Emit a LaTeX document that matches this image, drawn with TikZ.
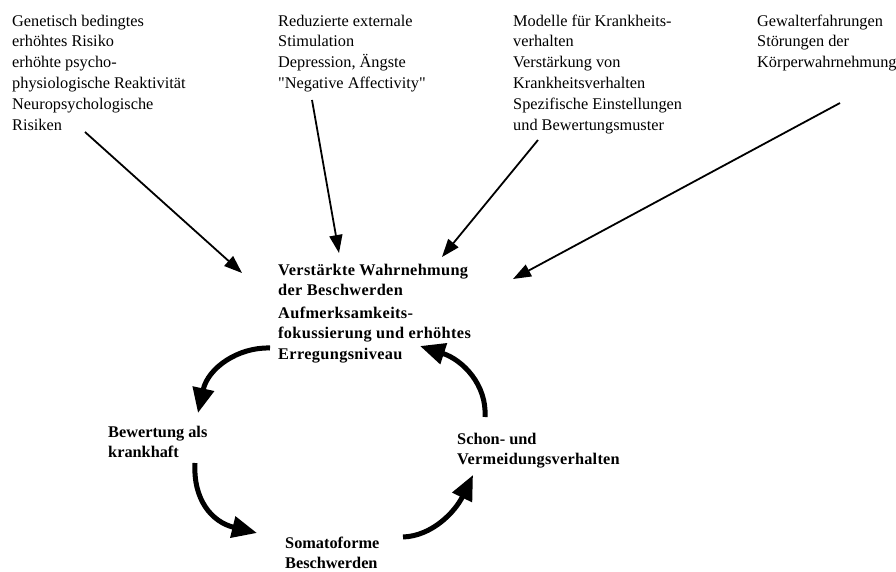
\documentclass[tikz,border=0pt]{standalone}
\usepackage{fontspec}
\setmainfont{Liberation Serif}[Ligatures=TeXOff]
\usetikzlibrary{arrows.meta}
\begin{document}
\begin{tikzpicture}[x=1pt,y=-1pt,
  toptext/.style={anchor=north west,inner sep=0pt,align=left,
    font=\fontsize{16.3}{20.8}\selectfont},
  boldtext/.style={anchor=north west,inner sep=0pt,align=left,
    font=\fontsize{16.3}{20.5}\selectfont\bfseries},
  thinarrow/.style={line width=1.8pt,-{Triangle[length=18pt,width=13pt]}},
  thickarrow/.style={line width=5pt,-{Triangle[length=25pt,width=21pt]}}]
\useasboundingbox (0,0) rectangle (896,572);

% source texts
\node[toptext] (gen) at (12,14.5) {Genetisch bedingtes\\erhöhtes Risiko\\erhöhte psycho-\\physiologische Reaktivität\\Neuropsychologische\\Risiken};
\node[toptext] (red) at (278,14.5) {Reduzierte externale\\Stimulation\\Depression, Ängste\\"Negative Affectivity"};
\node[toptext] (mod) at (513,14.5) {Modelle für Krankheits-\\verhalten\\Verstärkung von\\Krankheitsverhalten\\Spezifische Einstellungen\\und Bewertungsmuster};
\node[toptext] (gew) at (757,14.5) {Gewalterfahrungen\\Störungen der\\Körperwahrnehmung};

% cycle texts
\node[boldtext] (wahr) at (278,263.5) {\addfontfeature{LetterSpace=2.2}Verstärkte Wahrnehmung\\\addfontfeature{LetterSpace=2.2}der Beschwerden};
\node[boldtext] (auf) at (278,306.5) {\addfontfeature{LetterSpace=2.2}Aufmerksamkeits-\\\addfontfeature{LetterSpace=2.2}fokussierung und erhöhtes\\\addfontfeature{LetterSpace=2.2}Erregungsniveau};
\node[boldtext] (bew) at (108,425.5) {Bewertung als\\krankhaft};
\node[boldtext] (schon) at (457,432.5) {Schon- und\\\addfontfeature{LetterSpace=1.5}Vermeidungsverhalten};
\node[boldtext] (soma) at (285,536.5) {Somatoforme\\Beschwerden};

% connector end points
\coordinate (s1) at (85,132);   \coordinate (t1) at (242,273);
\coordinate (s2) at (312,100);  \coordinate (t2) at (339,253);
\coordinate (s3) at (538,140);  \coordinate (t3) at (442,257);
\coordinate (s4) at (840,103);  \coordinate (t4) at (513,279);

\draw[thinarrow] (s1) -- (t1);
\draw[thinarrow] (s2) -- (t2);
\draw[thinarrow] (s3) -- (t3);
\draw[thinarrow] (s4) -- (t4);

\coordinate (ca) at (270,348); \coordinate (ta) at (198,413);
\coordinate (cb) at (485,417); \coordinate (tb) at (420,346);
\coordinate (cc) at (195,463); \coordinate (tc) at (257,533);
\coordinate (cd) at (403,537); \coordinate (td) at (473,475);

\draw[thickarrow] (ca) .. controls (238,347) and (208,368) .. (ta);
\draw[thickarrow] (cb) .. controls (487,385) and (463,360) .. (tb);
\draw[thickarrow] (cc) .. controls (193,500) and (212,522) .. (tc);
\draw[thickarrow] (cd) .. controls (432,536) and (455,512) .. (td);
\end{tikzpicture}
\end{document}
